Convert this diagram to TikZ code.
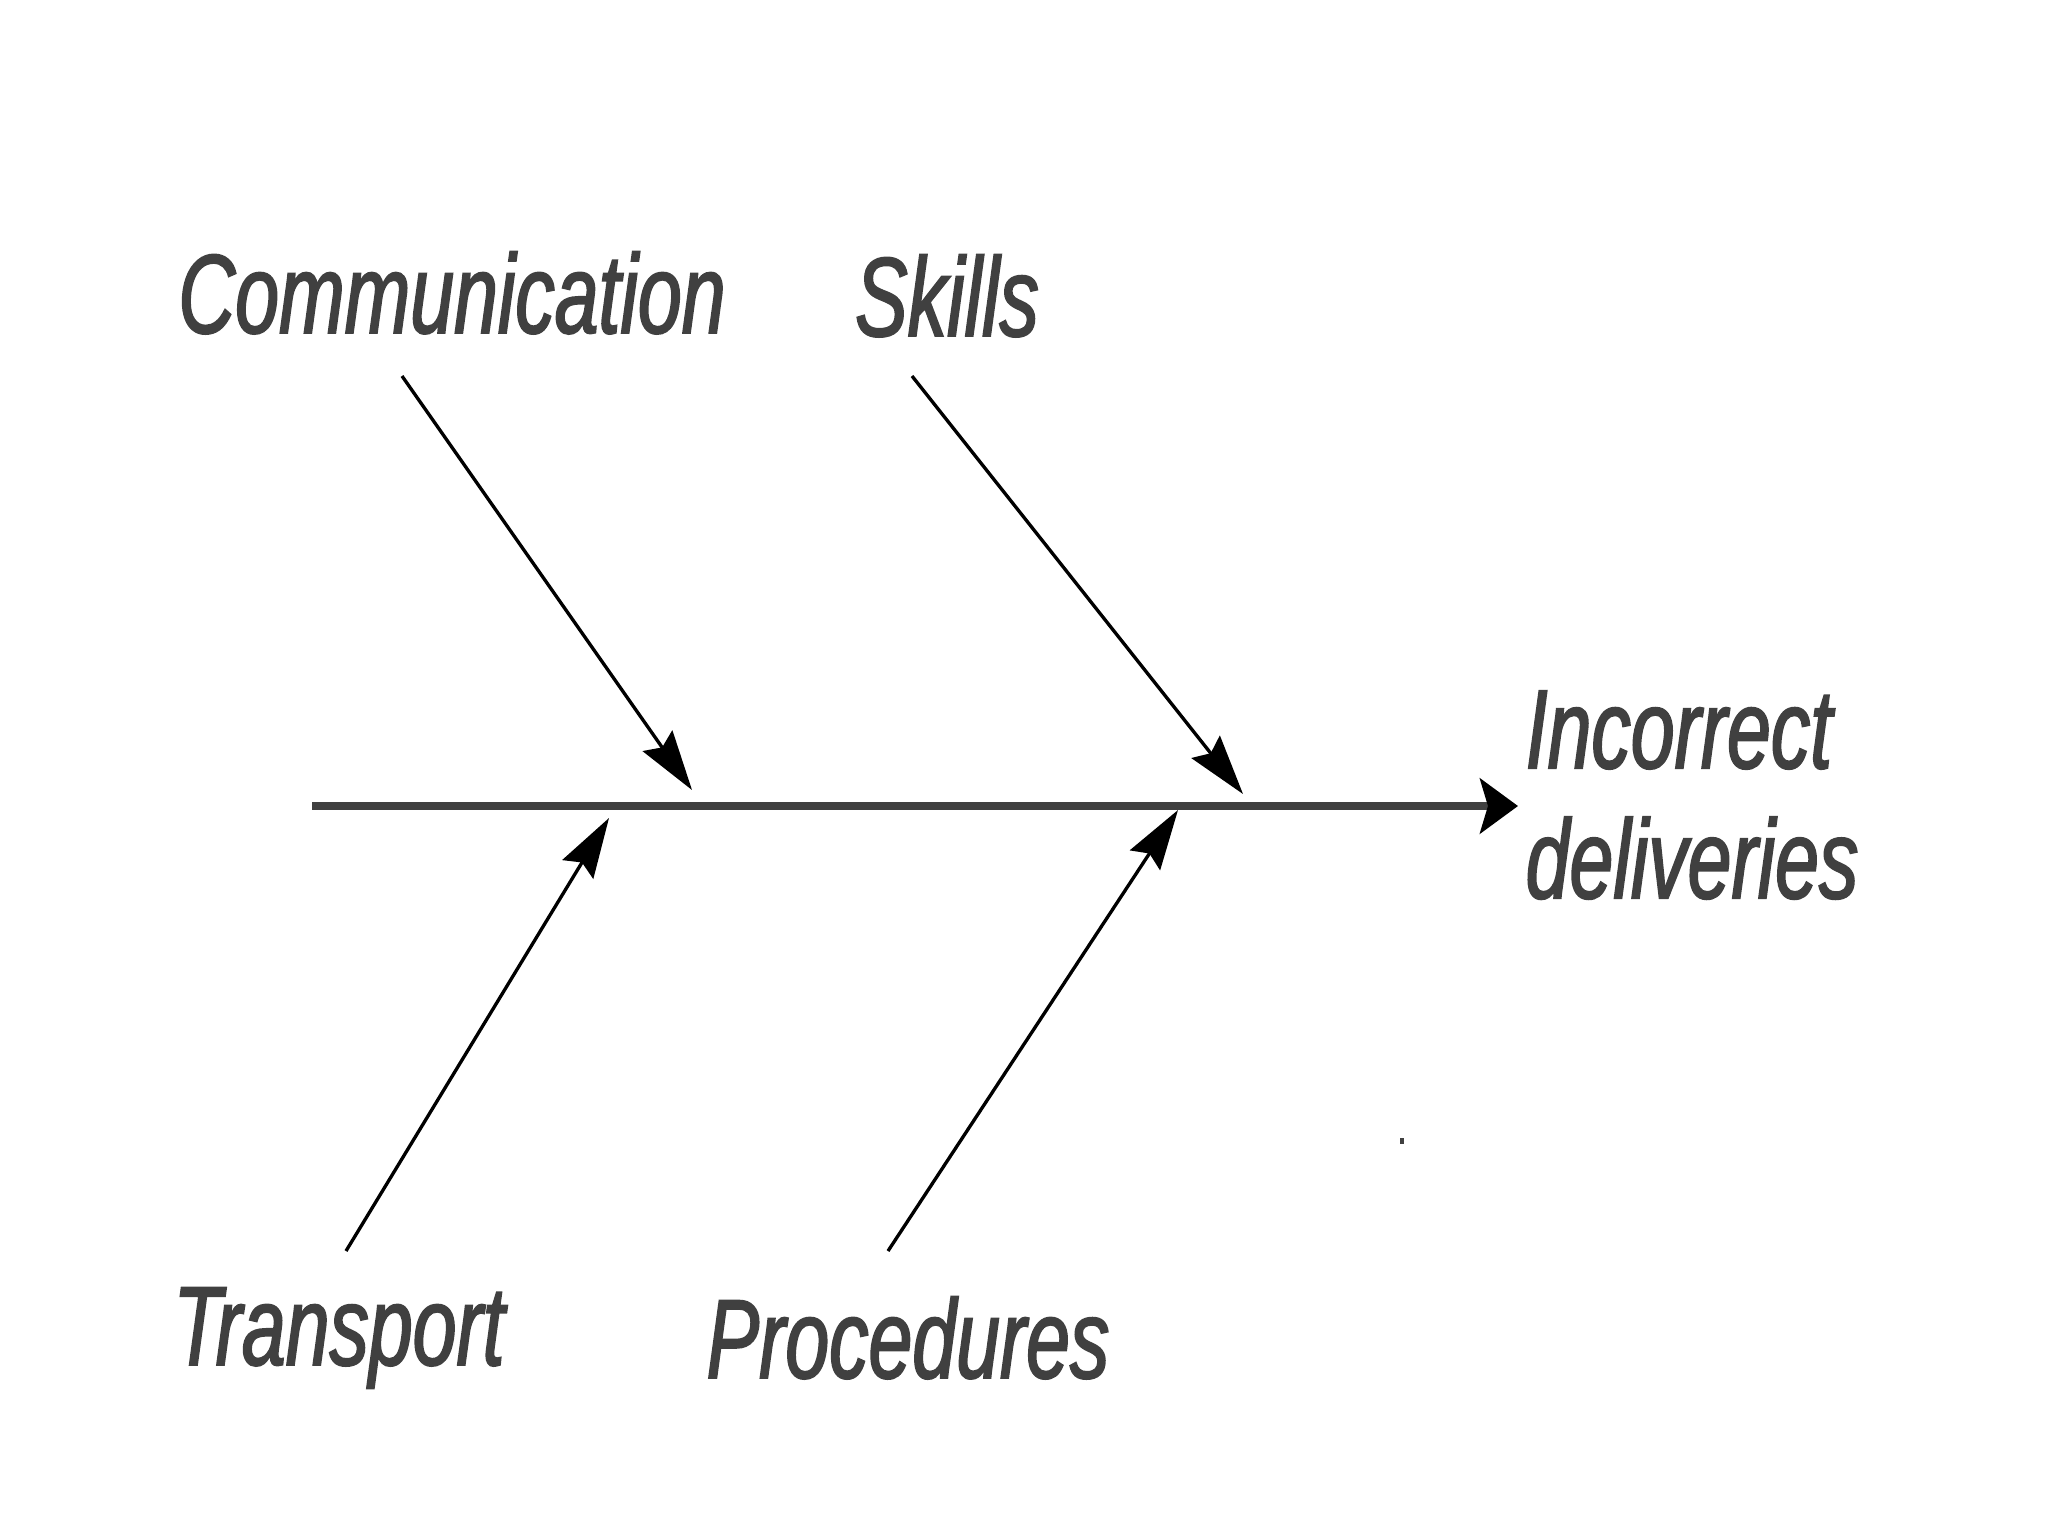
\documentclass[tikz,border=0pt]{standalone}
\usepackage{fontspec}
\newfontfamily\causefont[FakeStretch=0.7, FakeBold=1.6]{Liberation Sans}
\usetikzlibrary{arrows.meta}
\definecolor{labelgray}{HTML}{404040}

\begin{document}
\begin{tikzpicture}[x=0.01cm, y=-0.01cm,
    cause/.style={font=\causefont\itshape\fontsize{32}{37}\selectfont, text=labelgray, inner sep=0pt},
    bone/.style={line width=0.95pt, -{Stealth[length=0.6cm, width=0.36cm, inset=0.08cm]}}]
    \useasboundingbox (0,0) rectangle (2048,1536);

    % Draw the spine
    \coordinate (tail) at (312,806);
    \coordinate (head) at (1518,806);
    \draw[labelgray, line width=2.5pt, -{Stealth[length=0.38cm, width=0.55cm, inset=0.08cm, color=black]}] (tail) -- (head);

    % Draw the cause labels
    \node[cause, anchor=base] (comm) at (452,333) {Communication};
    \node[cause, anchor=base] (skills) at (947,336) {Skills};
    \node[cause, anchor=base] (trans) at (339,1365) {Transport};
    \node[cause, anchor=base] (proc) at (908,1378) {Procedures};
    \node[cause, anchor=north west, align=left] (effect) at (1525,690) {Incorrect\\deliveries};

    % Draw the bones
    \coordinate (comm start) at (402,376);
    \coordinate (comm end) at (692,790);
    \coordinate (skills start) at (912,376);
    \coordinate (skills end) at (1243,794);
    \coordinate (trans start) at (346,1251);
    \coordinate (trans end) at (609,818);
    \coordinate (proc start) at (888,1251);
    \coordinate (proc end) at (1178,810);
    \draw[bone] (comm start) -- (comm end);
    \draw[bone] (skills start) -- (skills end);
    \draw[bone] (trans start) -- (trans end);
    \draw[bone] (proc start) -- (proc end);

    % small speck
    \fill[labelgray] (1400,1138) rectangle (1404,1144);
\end{tikzpicture}
\end{document}
